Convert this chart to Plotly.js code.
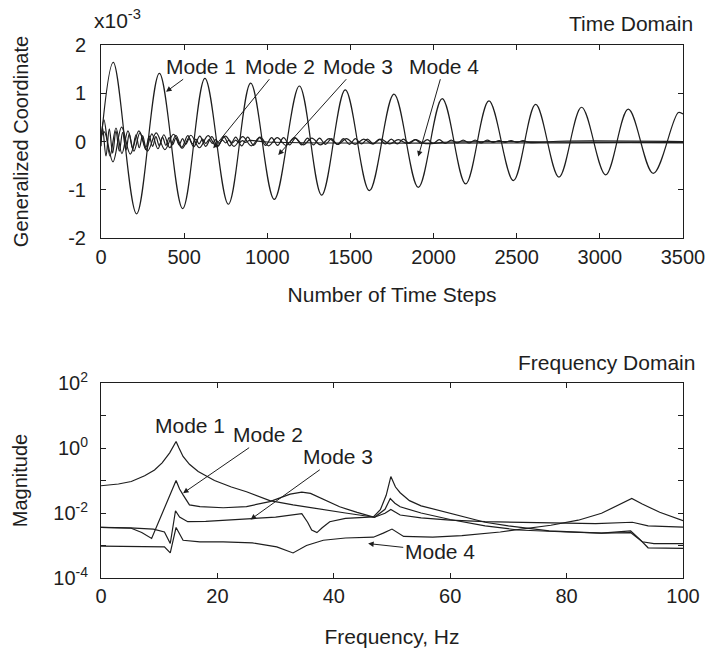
<!DOCTYPE html>
<html>
<head>
<meta charset="utf-8">
<script src="https://cdn.plot.ly/plotly-3.0.1.min.js"></script>
<style>html,body{margin:0;padding:0;background:#fff;}</style>
</head>
<body>
<div id="chart" style="width:714px;height:659px;"></div>
<script>
// ---------- Time domain (values in units of 1e-3) ----------
var timeMode1 = [0, 74, 214, 351, 491, 625, 766, 900, 1042, 1193, 1327, 1469, 1614, 1762, 1908, 2052, 2193, 2333, 2480, 2614, 2754, 2890, 3035, 3171, 3321, 3472, 3500];
var coordMode1 = [0, 1.64, -1.50, 1.41, -1.39, 1.31, -1.30, 1.21, -1.20, 1.15, -1.11, 1.07, -1.02, 0.98, -0.95, 0.89, -0.88, 0.84, -0.81, 0.77, -0.74, 0.71, -0.69, 0.67, -0.66, 0.60, 0.57];

var timeMode2 = [0, 20, 72, 124, 176, 228, 280, 332, 384, 436, 488, 540, 592, 644, 696, 748, 800, 852, 904, 956, 1008, 1060, 1112, 1164, 1216, 1268, 1320, 1372, 1424, 1476, 1528, 1580, 1632, 1684, 1736, 1788, 1840, 1892, 1944, 2100, 3500];
var coordMode2 = [0.1, 0.2, -0.42, 0.3, -0.26, 0.22, -0.2, 0.18, -0.17, 0.15, -0.14, 0.13, -0.13, 0.12, -0.11, 0.11, -0.1, 0.1, -0.09, 0.09, -0.09, 0.08, -0.08, 0.08, -0.07, 0.07, -0.07, 0.06, -0.06, 0.06, -0.06, 0.05, -0.05, 0.05, -0.05, 0.04, -0.04, 0.04, -0.04, -0.01, -0.03];

var timeMode3 = [0, 18, 54, 90, 126, 162, 198, 234, 270, 306, 342,
  378, 414, 450, 486, 522, 558, 594, 630, 666, 702,
  738, 774, 810, 846, 882, 918, 954, 990, 1026, 1062,
  1098, 1134, 1170, 1206, 1242, 1278, 1314, 1350, 1386, 1422,
  1458, 1494, 1530, 1566, 1602, 1638, 1674, 1710, 1746, 1782,
  1818, 1854, 1890, 1926, 1962, 1998, 2034, 2070, 2106, 2142,
  2178, 2214, 2250, 2286, 2322, 2358, 2394, 2430, 2466, 2502,
  2538, 2574, 2800, 3500];
var coordMode3 = [0.05, 0.45, -0.3, 0.28, -0.25, 0.22, -0.2, 0.18, -0.17, 0.16, -0.15,
  0.14, -0.13, 0.13, -0.12, 0.12, -0.11, 0.11, -0.1, 0.1, -0.1,
  0.1, -0.09, 0.09, -0.09, 0.09, -0.08, 0.08, -0.08, 0.08, -0.08,
  0.08, -0.07, 0.07, -0.07, 0.07, -0.07, 0.07, -0.06, 0.06, -0.06,
  0.06, -0.06, 0.06, -0.05, 0.05, -0.05, 0.05, -0.05, 0.05, -0.05,
  0.05, -0.04, 0.04, -0.04, 0.04, -0.04, 0.04, -0.04, 0.03, -0.03,
  0.03, -0.03, 0.03, -0.03, 0.03, -0.02, 0.02, -0.02, 0.02, -0.02,
  0.02, -0.02, 0.01, 0.0];

var timeMode4 = [0, 10, 30, 50, 70, 90, 110, 130, 150, 170, 190, 210, 230, 250, 270, 290, 310, 330, 350, 370, 390, 410, 430, 450, 470, 490, 510, 530, 550, 570, 590, 610, 630, 650, 670, 690, 710, 730, 750, 770, 790, 810, 830, 850, 870, 890, 1000, 3500];
var coordMode4 = [-0.1, 0.28, -0.3, 0.26, -0.24, 0.22, -0.2, 0.19, -0.18, 0.16, -0.15, 0.14, -0.13, 0.12, -0.12, 0.11, -0.1, 0.1, -0.09, 0.09, -0.08, 0.08, -0.07, 0.07, -0.07, 0.06, -0.06, 0.06, -0.05, 0.05, -0.05, 0.05, -0.04, 0.04, -0.04, 0.04, -0.04, 0.03, -0.03, 0.03, -0.03, 0.03, -0.03, 0.02, -0.02, 0.02, -0.01, -0.02];

var timeTicks = [0, 500, 1000, 1500, 2000, 2500, 3000, 3500];
var coordTicks = [-2, -1, 0, 1, 2];
var coordTickText = ['-2', '-1', '0', '1', '2'];

// ---------- Frequency domain ----------
var freqMode1 = [0, 3, 5.2, 7.5, 9.2, 10.5, 11.8, 12.3, 12.9, 13.4, 14.1, 15.2, 16.7, 19.5, 22.4, 25, 29, 33, 38, 42, 47, 48.8, 49.8, 50.6, 51.4, 55, 60, 66, 75, 85, 91.3, 94, 100];
var magMode1 = [0.069, 0.078, 0.093, 0.14, 0.21, 0.35, 0.71, 1.0, 1.58, 1.0, 0.55, 0.316, 0.19, 0.1, 0.063, 0.045, 0.024, 0.0178, 0.0126, 0.01, 0.0074, 0.0098, 0.0129, 0.0105, 0.0087, 0.0071, 0.006, 0.0054, 0.005, 0.0047, 0.0052, 0.004, 0.0037];

var freqMode2 = [0, 5.2, 7, 8.7, 12.9, 13.5, 14.1, 15.2, 17, 21, 25, 29, 32.5, 34.5, 36, 38, 41, 44, 47, 48.8, 49.7, 50.5, 51.4, 55, 60, 66, 71.7, 80, 86, 91, 93, 95, 100];
var magMode2 = [0.0036, 0.0034, 0.0025, 0.00165, 0.1, 0.055, 0.036, 0.0178, 0.0158, 0.0145, 0.0158, 0.0224, 0.038, 0.044, 0.04, 0.028, 0.0155, 0.0105, 0.0074, 0.013, 0.028, 0.02, 0.0155, 0.01, 0.0063, 0.004, 0.003, 0.0026, 0.0024, 0.0025, 0.0013, 0.00115, 0.00115];

var freqMode3 = [0, 5, 9, 10.9, 11.9, 12.8, 13.5, 14.9, 18, 25.6, 30, 34.5, 35.5, 36.2, 37.1, 38, 39.3, 42, 46.8, 48, 49, 49.8, 50.6, 51.4, 53, 55, 60, 63, 66, 70, 77, 86, 91, 92.5, 94, 100];
var magMode3 = [0.0036, 0.0035, 0.0032, 0.0026, 0.00115, 0.0117, 0.0075, 0.0054, 0.0055, 0.0065, 0.0075, 0.0095, 0.0052, 0.003, 0.0025, 0.0035, 0.0054, 0.0068, 0.0076, 0.0126, 0.035, 0.132, 0.063, 0.042, 0.024, 0.0166, 0.0098, 0.0071, 0.0052, 0.004, 0.0028, 0.0024, 0.0028, 0.0016, 0.00085, 0.00081];

var freqMode4 = [0, 6, 10.9, 11.9, 12.9, 14.1, 17, 21, 26, 30.2, 33, 35.3, 38.2, 42, 46.8, 48.5, 50, 52, 57, 62, 68.6, 77.3, 82, 86, 89, 91.2, 93, 96, 100];
var magMode4 = [0.00095, 0.00093, 0.00091, 0.00059, 0.0036, 0.00145, 0.0013, 0.0013, 0.0012, 0.00091, 0.00059, 0.001, 0.00145, 0.0017, 0.0018, 0.0024, 0.0032, 0.0019, 0.0018, 0.002, 0.0026, 0.0042, 0.006, 0.0098, 0.0178, 0.028, 0.019, 0.0105, 0.0058];

var freqTicks = [0, 20, 40, 60, 80, 100];
var magTicks = [1e-4, 1e-2, 1, 100];
var magTickText = ['10<sup>-4</sup>', '10<sup>-2</sup>', '10<sup>0</sup>', '10<sup>2</sup>'];
var magMinorTicks = [1e-3, 1e-1, 10];

var modeNames = ['Mode 1', 'Mode 2', 'Mode 3', 'Mode 4'];

// ---------- Build ----------
var ink = '#1e1e1e';
function tdTrace(x, y, name) {
  return {x: x, y: y, name: name, type: 'scatter', mode: 'lines', xaxis: 'x', yaxis: 'y',
    line: {color: ink, width: 1.2, shape: 'spline', smoothing: 1}, showlegend: false, hoverinfo: 'skip'};
}
function fdTrace(x, y, name) {
  return {x: x, y: y, name: name, type: 'scatter', mode: 'lines', xaxis: 'x2', yaxis: 'y2',
    line: {color: ink, width: 1.2}, showlegend: false, hoverinfo: 'skip'};
}
var data = [
  tdTrace(timeMode4, coordMode4, modeNames[3]),
  tdTrace(timeMode3, coordMode3, modeNames[2]),
  tdTrace(timeMode2, coordMode2, modeNames[1]),
  tdTrace(timeMode1, coordMode1, modeNames[0]),
  fdTrace(freqMode1, magMode1, modeNames[0]),
  fdTrace(freqMode2, magMode2, modeNames[1]),
  fdTrace(freqMode3, magMode3, modeNames[2]),
  fdTrace(freqMode4, magMode4, modeNames[3])
];

var font = 'Liberation Sans, Arial, Helvetica, sans-serif';
var tickFont = {family: font, size: 20, color: ink};
var titleFont = {family: font, size: 21, color: ink};
var vTitleFont = {family: font, size: 20, color: ink};
var axisCommon = {
  showline: true, linecolor: ink, linewidth: 1, mirror: 'ticks',
  ticks: 'inside', ticklen: 5, tickcolor: ink, tickwidth: 1,
  showgrid: false, zeroline: false, tickfont: tickFont, fixedrange: true
};
function ax(extra) { return Object.assign({}, axisCommon, extra); }

var topBottom = 340 / 533;
var botTop = 195 / 533;

function label(text, x, y, xr, yr, anchor) {
  return {text: text, x: x, y: y, xref: xr, yref: yr, showarrow: false,
    xanchor: anchor || 'center', yanchor: 'middle', font: titleFont};
}
// text centred at (tx, ty); arrow from the text box edge to the head (hx, hy)
function pointer(text, xr, yr, tx, ty, hx, hy) {
  return {text: text, x: hx, y: hy, ax: tx, ay: ty, xref: xr, yref: yr, axref: xr, ayref: yr,
    showarrow: true, arrowhead: 2, arrowsize: 1.1, arrowwidth: 1, arrowcolor: ink,
    standoff: 0, borderpad: 1, font: titleFont};
}

var annotations = [
  label('x10<sup>-3</sup>', -0.0155, 1.049, 'paper', 'paper', 'left'),
  label('Time Domain', 1.0206, 1.041, 'paper', 'paper', 'right'),
  label('Frequency Domain', 1.024, 0.4034, 'paper', 'paper', 'right'),
  pointer(modeNames[0], 'x', 'y', 601, 1.56, 391, 1.03),
  pointer(modeNames[1], 'x', 'y', 1076, 1.56, 675, -0.14),
  pointer(modeNames[2], 'x', 'y', 1545, 1.56, 1066, -0.28),
  pointer(modeNames[3], 'x', 'y', 2063, 1.56, 1908, -0.31),
  label(modeNames[0], 15.3, 0.69, 'x2', 'y2'),
  pointer(modeNames[1], 'x2', 'y2', 28.7, 0.41, 14.1, -1.39),
  pointer(modeNames[2], 'x2', 'y2', 40.7, -0.27, 25.7, -2.2),
  pointer(modeNames[3], 'x2', 'y2', 58.2, -3.18, 45.9, -2.94)
];

var layout = {
  width: 714, height: 659,
  margin: {l: 101, r: 31, t: 45, b: 81, pad: 0},
  paper_bgcolor: '#fff', plot_bgcolor: '#fff',
  font: {family: font, color: ink},
  showlegend: false,
  xaxis: ax({domain: [0, 1], anchor: 'y', range: [0, 3500], tickvals: timeTicks, ticklabelstandoff: 1,
    title: {text: 'Number of Time Steps', font: titleFont, standoff: 20}}),
  yaxis: ax({domain: [topBottom, 1], anchor: 'x', range: [-2, 2], tickvals: coordTicks, ticktext: coordTickText, ticklabelstandoff: 10,
    title: {text: 'Generalized Coordinate', font: vTitleFont, standoff: 34}}),
  xaxis2: ax({domain: [0, 1], anchor: 'y2', range: [0, 100], tickvals: freqTicks, ticklabelstandoff: 0,
    title: {text: 'Frequency, Hz', font: titleFont, standoff: 23}}),
  yaxis2: ax({domain: [0, botTop], anchor: 'x2', type: 'log', range: [-4, 2], tickvals: magTicks, ticktext: magTickText, ticklabelstandoff: 8,
    minor: {tickvals: magMinorTicks, ticks: 'inside', ticklen: 5, tickcolor: ink, tickwidth: 1, showgrid: false},
    title: {text: 'Magnitude', font: vTitleFont, standoff: 20}}),
  annotations: annotations
};

Plotly.newPlot('chart', data, layout, {staticPlot: true, displayModeBar: false});
</script>
</body>
</html>
